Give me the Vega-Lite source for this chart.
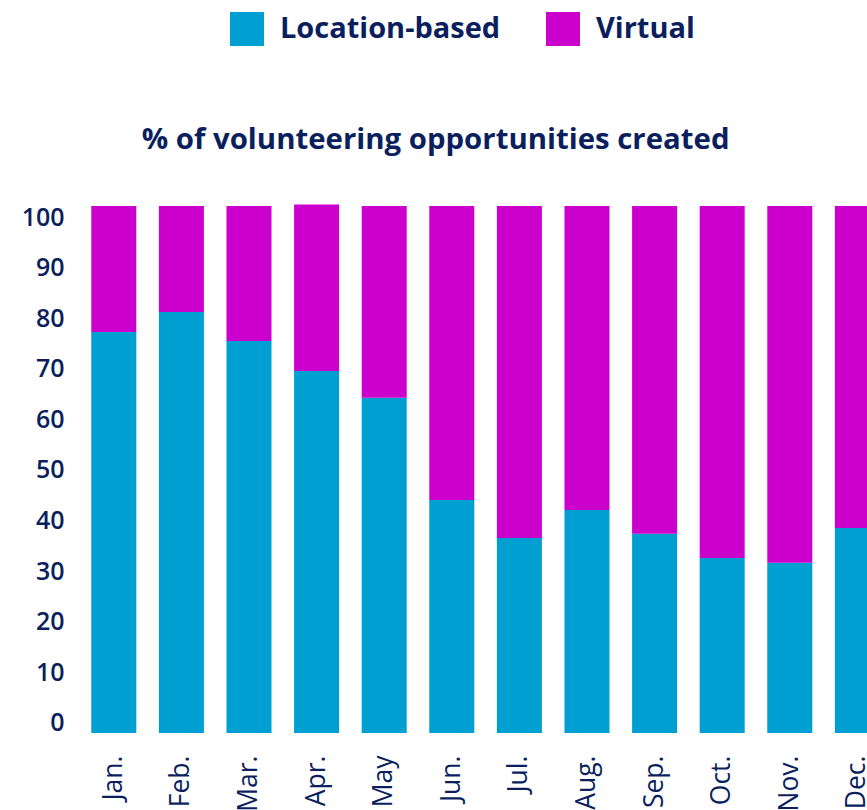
{
  "$schema": "https://vega.github.io/schema/vega-lite/v6.json",
  "autosize": {"type": "none"},
  "padding": {"left": 80, "top": 206, "right": 0, "bottom": 77},
  "width": {"step": 67.6},
  "height": 527,
  "title": {
    "text": "% of volunteering opportunities created",
    "fontSize": 29.4,
    "fontWeight": "bold",
    "font": "Open Sans",
    "color": "#0B1F5E",
    "anchor": "middle",
    "dx": -50,
    "offset": 0,
    "dy": 143
  },
  "data": {
    "values": [
      {"month": "Jan.", "type": "Location-based", "value": 76.1},
      {"month": "Jan.", "type": "Virtual", "value": 23.9},
      {"month": "Feb.", "type": "Location-based", "value": 79.9},
      {"month": "Feb.", "type": "Virtual", "value": 20.1},
      {"month": "Mar.", "type": "Location-based", "value": 74.4},
      {"month": "Mar.", "type": "Virtual", "value": 25.6},
      {"month": "Apr.", "type": "Location-based", "value": 68.7},
      {"month": "Apr.", "type": "Virtual", "value": 31.6},
      {"month": "May", "type": "Location-based", "value": 63.6},
      {"month": "May", "type": "Virtual", "value": 36.4},
      {"month": "Jun.", "type": "Location-based", "value": 44.2},
      {"month": "Jun.", "type": "Virtual", "value": 55.8},
      {"month": "Jul.", "type": "Location-based", "value": 37.0},
      {"month": "Jul.", "type": "Virtual", "value": 63.0},
      {"month": "Aug.", "type": "Location-based", "value": 42.3},
      {"month": "Aug.", "type": "Virtual", "value": 57.7},
      {"month": "Sep.", "type": "Location-based", "value": 37.8},
      {"month": "Sep.", "type": "Virtual", "value": 62.2},
      {"month": "Oct.", "type": "Location-based", "value": 33.2},
      {"month": "Oct.", "type": "Virtual", "value": 66.8},
      {"month": "Nov.", "type": "Location-based", "value": 32.3},
      {"month": "Nov.", "type": "Virtual", "value": 67.7},
      {"month": "Dec.", "type": "Location-based", "value": 38.9},
      {"month": "Dec.", "type": "Virtual", "value": 61.1}
    ]
  },
  "mark": {"type": "bar"},
  "encoding": {
    "x": {
      "field": "month",
      "type": "nominal",
      "sort": null,
      "scale": {"paddingInner": 0.334, "paddingOuter": 0.167},
      "axis": {
        "title": null,
        "domain": false,
        "ticks": false,
        "labelAngle": -90,
        "labelAlign": "right",
        "labelBaseline": "middle",
        "labelPadding": 22,
        "labelFont": "Open Sans",
        "labelFontSize": 26.5,
        "labelFontWeight": 500,
        "labelColor": "#0B1F5E"
      }
    },
    "y": {
      "field": "value",
      "type": "quantitative",
      "stack": "zero",
      "scale": {"domain": [0, 100], "nice": false},
      "axis": {
        "title": null,
        "domain": false,
        "ticks": false,
        "grid": false,
        "values": [0, 10, 20, 30, 40, 50, 60, 70, 80, 90, 100],
        "labelPadding": 16,
        "labelOffset": {"expr": "-10 + 0.21 * datum.value"},
        "labelFont": "Open Sans",
        "labelFontSize": 25,
        "labelFontWeight": 600,
        "labelColor": "#0B1F5E"
      }
    },
    "order": {"field": "type", "sort": "ascending"},
    "color": {
      "field": "type",
      "type": "nominal",
      "scale": {"domain": ["Location-based", "Virtual"], "range": ["#009FD1", "#CC00CC"]},
      "legend": {
        "title": null,
        "orient": "none",
        "direction": "horizontal",
        "legendX": 150,
        "legendY": -194,
        "symbolType": "square",
        "symbolSize": 1156,
        "symbolStrokeWidth": 0,
        "symbolOpacity": 1,
        "labelFont": "Open Sans",
        "labelFontSize": 29,
        "labelFontWeight": "bold",
        "labelColor": "#0B1F5E",
        "labelOffset": 16,
        "columnPadding": 45,
        "labelLimit": 400
      }
    }
  },
  "config": {
    "view": {"stroke": null}
  }
}
